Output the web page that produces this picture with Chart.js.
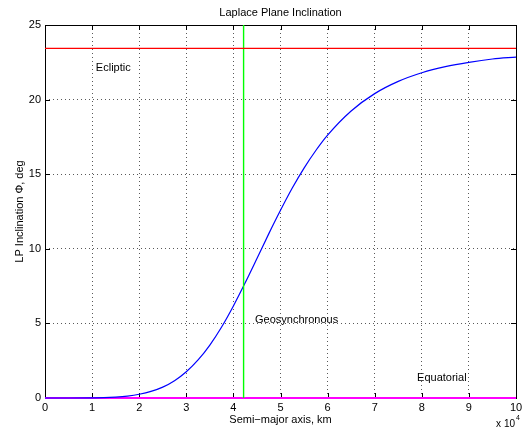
<!DOCTYPE html>
<html>
<head>
<meta charset="utf-8">
<script src="https://cdn.jsdelivr.net/npm/chart.js@4/dist/chart.umd.min.js"></script>
<style>
  body { margin: 0; background: #fff; }
  canvas { display: block; }
</style>
</head>
<body>
<canvas id="myChart" width="526" height="429"></canvas>
<script>
// semi-major axis in units of 10^4 km
var semiMajor   = [0, 0.5, 1, 1.25, 1.5, 1.75, 2, 2.25, 2.5, 2.75, 3, 3.25, 3.5, 3.75, 4, 4.25, 4.5, 4.75,
                   5, 5.25, 5.5, 5.75, 6, 6.5, 7, 7.5, 8, 8.5, 9, 9.5, 10];
// Laplace plane inclination, deg
var inclination = [0, 0, 0.01, 0.02, 0.06, 0.13, 0.25, 0.44, 0.73, 1.16, 1.76, 2.55, 3.55, 4.76, 6.17, 7.72, 9.35, 11.0,
                   12.58, 14.07, 15.41, 16.59, 17.62, 19.24, 20.40, 21.22, 21.80, 22.21, 22.50, 22.72, 22.85];

var eclipticDeg = 23.44;
var geoRadius = 4.2164;
var xTicks = [0, 1, 2, 3, 4, 5, 6, 7, 8, 9, 10];
var yTicks = [0, 5, 10, 15, 20, 25];

var noteLabels = ['Ecliptic', 'Geosynchronous', 'Equatorial'];
var noteX = [1.08, 4.46, 7.9];
var noteY = [22.1, 5.2, 1.35];

var FONT = "'Liberation Sans', Arial, Helvetica, sans-serif";
Chart.defaults.font.family = FONT;
Chart.defaults.font.size = 11;
Chart.defaults.color = '#000';

var curve = semiMajor.map(function (x, i) { return { x: x, y: inclination[i] }; });

var boxPlugin = {
  id: 'box',
  beforeDatasetsDraw: function (chart) {
    var a = chart.chartArea, c = chart.ctx;
    var xs = chart.scales.x, ys = chart.scales.y;
    c.save();
    c.strokeStyle = '#000';
    c.lineWidth = 1;
    c.strokeRect(Math.round(a.left) + 0.5, Math.round(a.top) + 0.5,
                 Math.round(a.right - a.left), Math.round(a.bottom - a.top));
    c.beginPath();
    xTicks.forEach(function (t) {
      var px = Math.round(xs.getPixelForValue(t)) + 0.5;
      c.moveTo(px, a.bottom); c.lineTo(px, a.bottom - 5);
      c.moveTo(px, a.top); c.lineTo(px, a.top + 5);
    });
    yTicks.forEach(function (t) {
      var py = Math.round(ys.getPixelForValue(t)) + 0.5;
      c.moveTo(a.left, py); c.lineTo(a.left + 5, py);
      c.moveTo(a.right, py); c.lineTo(a.right - 5, py);
    });
    c.stroke();
    c.restore();
  },
  afterDraw: function (chart) {
    var a = chart.chartArea, c = chart.ctx;
    var xs = chart.scales.x, ys = chart.scales.y;
    c.save();
    c.fillStyle = '#000';
    c.font = '11px ' + FONT;
    c.textBaseline = 'middle';
    c.textAlign = 'left';
    noteLabels.forEach(function (s, i) {
      c.fillText(s, xs.getPixelForValue(noteX[i]), ys.getPixelForValue(noteY[i]));
    });
    c.textAlign = 'center';
    var cx = (a.left + a.right) / 2;
    c.fillText('Laplace Plane Inclination', cx, 13);
    c.fillText('Semi\u2212major axis, km', cx, 420);
    c.save();
    c.translate(20, (a.top + a.bottom) / 2);
    c.rotate(-Math.PI / 2);
    c.fillText('LP Inclination \u03A6, deg', 0, 0);
    c.restore();
    c.textAlign = 'right';
    c.font = '10px ' + FONT;
    c.fillText('x 10', 515, 424);
    c.textAlign = 'left';
    c.font = '7px ' + FONT;
    c.fillText('4', 516, 418);
    c.restore();
  }
};

new Chart(document.getElementById('myChart'), {
  type: 'line',
  data: {
    datasets: [
      { label: 'Ecliptic', data: [{ x: 0, y: eclipticDeg }, { x: 10, y: eclipticDeg }],
        borderColor: '#ff0000', borderWidth: 1.2, pointRadius: 0, clip: false },
      { label: 'Geosynchronous', data: [{ x: geoRadius, y: 0 }, { x: geoRadius, y: 25 }],
        borderColor: '#00ff00', borderWidth: 1.4, pointRadius: 0, clip: false },
      { label: 'LP inclination', data: curve,
        borderColor: '#0000ff', borderWidth: 1.2, pointRadius: 0,
        cubicInterpolationMode: 'monotone', clip: false },
      { label: 'Equatorial', data: [{ x: 0, y: 0 }, { x: 10, y: 0 }],
        borderColor: '#ff00ff', borderWidth: 2, pointRadius: 0, clip: false }
    ]
  },
  options: {
    responsive: false,
    animation: false,
    layout: { padding: { top: 25, right: 10, left: 0, bottom: 0 } },
    plugins: { legend: { display: false }, tooltip: { enabled: false } },
    scales: {
      x: {
        type: 'linear', min: 0, max: 10,
        afterBuildTicks: function (s) { s.ticks = xTicks.map(function (v) { return { value: v }; }); },
        afterFit: function (s) { s.height = 31; },
        ticks: { padding: 3, maxRotation: 0 },
        grid: { color: 'rgba(0,0,0,0.65)', drawTicks: false, lineWidth: 1 },
        border: { display: false, dash: [1, 3] }
      },
      y: {
        type: 'linear', min: 0, max: 25,
        afterBuildTicks: function (s) { s.ticks = yTicks.map(function (v) { return { value: v }; }); },
        afterFit: function (s) { s.width = 45; },
        ticks: { padding: 4 },
        grid: { color: 'rgba(0,0,0,0.65)', drawTicks: false, lineWidth: 1 },
        border: { display: false, dash: [1, 3] }
      }
    }
  },
  plugins: [boxPlugin]
});
</script>
</body>
</html>
